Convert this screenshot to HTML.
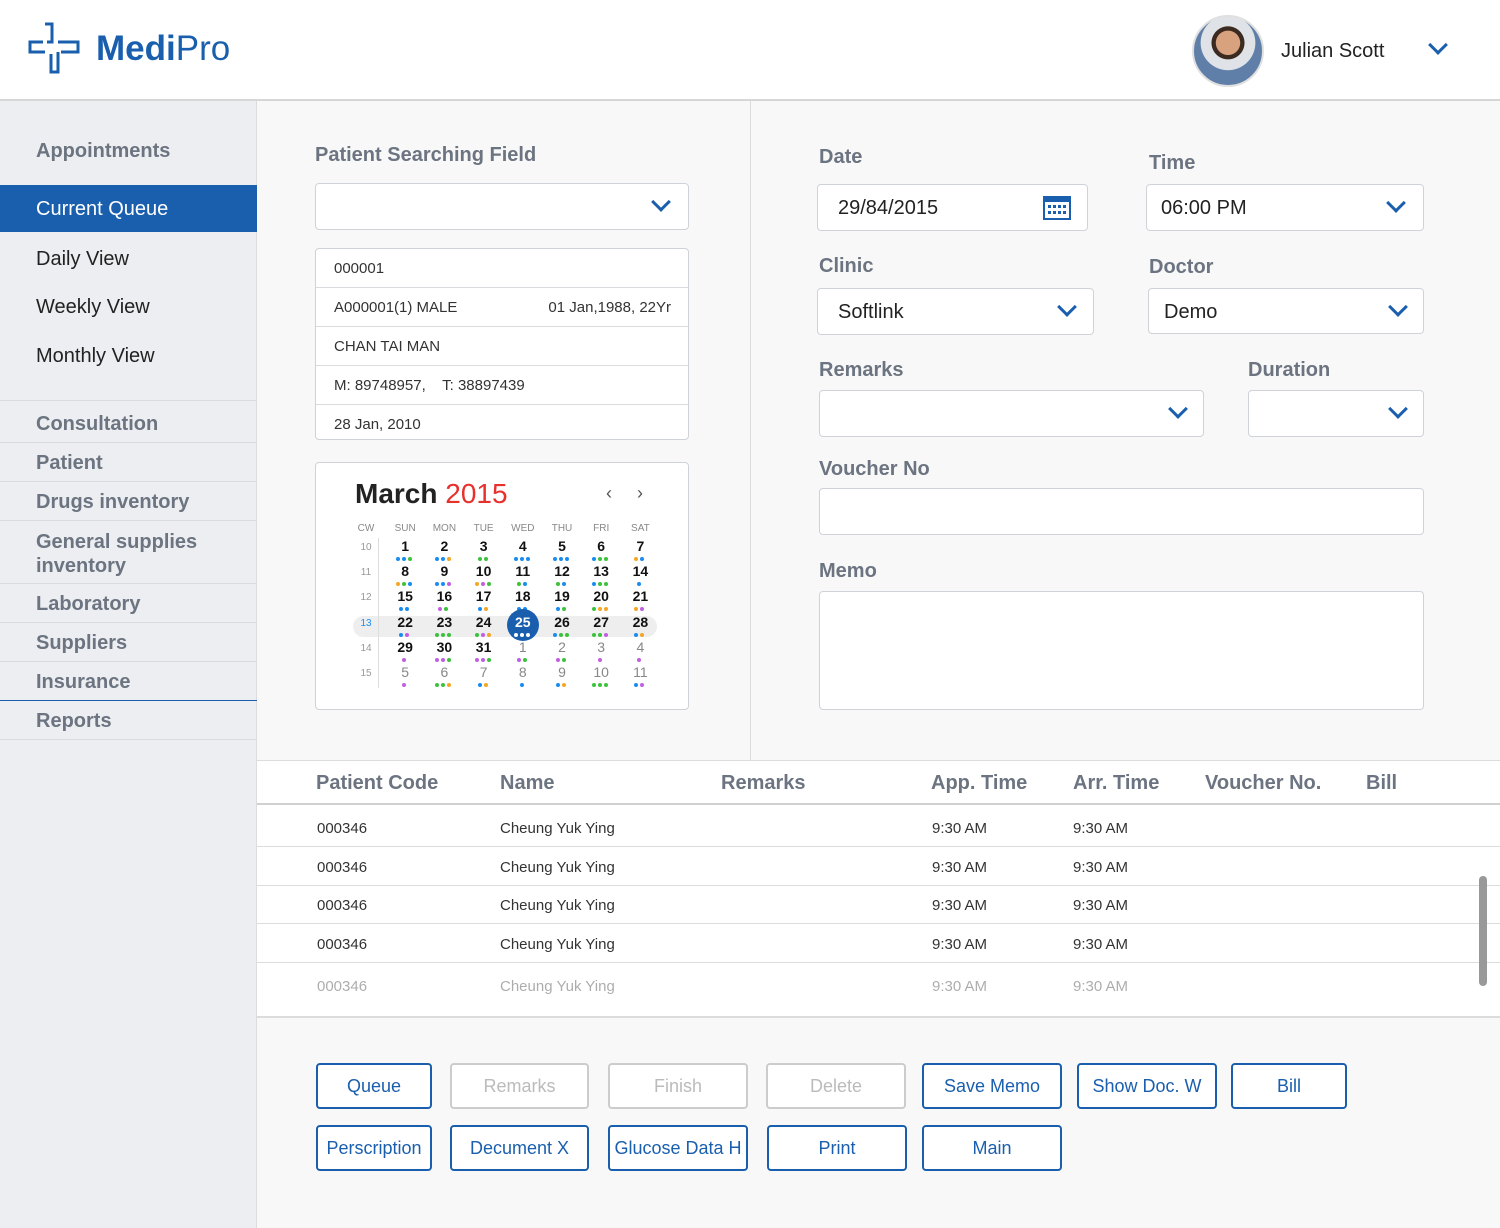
<!DOCTYPE html>
<html><head><meta charset="utf-8"><style>
*{box-sizing:border-box;margin:0;padding:0}
body{width:1500px;height:1228px;position:relative;overflow:hidden;font-family:"Liberation Sans",sans-serif;background:#f8f8f8;color:#222}
.abs{position:absolute}
#header{left:0;top:0;width:1500px;height:101px;background:#fff;border-bottom:2px solid #d6d6d6}
#side{left:0;top:101px;width:257px;height:1127px;background:#eceef1;border-right:1px solid #dcdcdc}
.sh{position:absolute;left:36px;font-size:20px;font-weight:bold;color:#6b7480}
.si{position:absolute;left:36px;font-size:20px;color:#222}
.sl{position:absolute;left:0;width:257px;height:1px;background:#d9dbde}
.lbl{position:absolute;font-size:20px;font-weight:bold;color:#6b7480}
.box{position:absolute;background:#fff;border:1px solid #cfd3d8;border-radius:4px}
.chev{position:absolute;width:14px;height:14px;border-right:3px solid #1a5fae;border-bottom:3px solid #1a5fae;transform:rotate(45deg)}
.val{position:absolute;font-size:20px;color:#222;top:12px;left:20px}
.prow{position:absolute;left:0;width:373px;height:39px;border-bottom:1px solid #d9dbde;font-size:15px;padding:11px 18px;color:#333}
.th{position:absolute;top:772px;font-size:20px;font-weight:bold;color:#6b7480}
.td{position:absolute;font-size:15px;color:#333}
.btn{position:absolute;width:116px;height:46px;border:2px solid #1a5fae;border-radius:4px;background:#fff;color:#1a5fae;font-size:18px;text-align:center;line-height:42px;white-space:nowrap;overflow:hidden}
.btn.dis{border-color:#ccc;color:#bbb}
</style></head><body>
<div id="header" class="abs">
 <svg class="abs" style="left:28px;top:22px" width="54" height="52"><path d="M17 2h7v18h-5M30 20h20v10H33M30 30v20h-7V32M17 30H2V20h13" fill="none" stroke="#1a5fae" stroke-width="3"/></svg>
 <div class="abs" style="left:96px;top:29px;font-size:35px;color:#1a5fae"><b>Medi</b>Pro</div>
 <div class="abs" style="left:1192px;top:15px;width:72px;height:72px;border-radius:50%;background:radial-gradient(circle at 50% 38%,#d9a27f 0 22%,#3b2a20 23% 30%,#dfe3e8 31% 50%,#5f7fa8 51%);border:2px solid #e0e0e0"></div>
 <div class="abs" style="left:1281px;top:40px;font-size:20px">Julian Scott</div>
 <div class="chev" style="left:1431px;top:38px"></div>
</div>
<div id="side" class="abs">
 <div class="sh" style="top:39px">Appointments</div>
 <div class="abs" style="left:0;top:84px;width:257px;height:47px;background:#1a5fae"></div>
 <div class="si" style="top:97px;color:#fff">Current Queue</div>
 <div class="si" style="top:147px">Daily View</div>
 <div class="si" style="top:195px">Weekly View</div>
 <div class="si" style="top:244px">Monthly View</div>
 <div class="sl" style="top:299px"></div>
 <div class="sh" style="top:312px">Consultation</div>
 <div class="sl" style="top:341px"></div>
 <div class="sh" style="top:351px">Patient</div>
 <div class="sl" style="top:380px"></div>
 <div class="sh" style="top:390px">Drugs inventory</div>
 <div class="sl" style="top:419px"></div>
 <div class="sh" style="top:429px;line-height:24px">General supplies<br>inventory</div>
 <div class="sl" style="top:482px"></div>
 <div class="sh" style="top:492px">Laboratory</div>
 <div class="sl" style="top:521px"></div>
 <div class="sh" style="top:531px">Suppliers</div>
 <div class="sl" style="top:560px"></div>
 <div class="sh" style="top:570px">Insurance</div>
 <div class="sl" style="top:599px;background:#1a5fae"></div>
 <div class="sh" style="top:609px">Reports</div>
 <div class="sl" style="top:638px"></div>
</div>
<div class="abs" style="left:750px;top:101px;width:1px;height:659px;background:#dcdcdc"></div>
<div class="lbl" style="left:315px;top:144px">Patient Searching Field</div>
<div class="box" style="left:315px;top:183px;width:374px;height:47px"><div class="chev" style="left:338px;top:11px"></div></div>
<div class="box" style="left:315px;top:248px;width:374px;height:192px;overflow:hidden">
 <div class="prow" style="top:0">000001</div>
 <div class="prow" style="top:39px">A000001(1) MALE<span style="float:right">01 Jan,1988, 22Yr</span></div>
 <div class="prow" style="top:78px">CHAN TAI MAN</div>
 <div class="prow" style="top:117px">M: 89748957,&nbsp;&nbsp;&nbsp; T: 38897439</div>
 <div class="prow" style="top:156px;border:0">28 Jan, 2010</div>
</div>
<div class="box" style="left:315px;top:462px;width:374px;height:248px">
 <div class="abs" style="left:39px;top:15px;font-size:28px;font-weight:600">March <span style="color:#e8302d;font-weight:normal">2015</span></div>
 <div class="abs" style="left:290px;top:20px;font-size:18px;color:#555">‹</div>
 <div class="abs" style="left:321px;top:20px;font-size:18px;color:#555">›</div>
 <div class="abs" style="left:37px;top:153px;width:304px;height:21px;border-radius:11px;background:#eeeeee"></div>
 <div class="abs" style="left:62px;top:75px;width:1px;height:150px;background:#ddd"></div>
 <div id="cal"></div>
</div>
<div class="lbl" style="left:819px;top:146px">Date</div>
<div class="box" style="left:817px;top:184px;width:271px;height:47px"><div class="val">29/84/2015</div>
 <svg class="abs" style="left:225px;top:9px" width="28" height="26"><rect x="1" y="3" width="26" height="22" fill="#fff" stroke="#1a5fae" stroke-width="2"/><rect x="1" y="3" width="26" height="5" fill="#1a5fae"/><g fill="#1a5fae"><rect x="5" y="11" width="3" height="3"/><rect x="10" y="11" width="3" height="3"/><rect x="15" y="11" width="3" height="3"/><rect x="20" y="11" width="3" height="3"/><rect x="5" y="17" width="3" height="3"/><rect x="10" y="17" width="3" height="3"/><rect x="15" y="17" width="3" height="3"/><rect x="20" y="17" width="3" height="3"/></g></svg></div>
<div class="lbl" style="left:1149px;top:152px">Time</div>
<div class="box" style="left:1146px;top:184px;width:278px;height:47px"><div class="val" style="left:14px">06:00 PM</div><div class="chev" style="left:242px;top:11px"></div></div>
<div class="lbl" style="left:819px;top:255px">Clinic</div>
<div class="box" style="left:817px;top:288px;width:277px;height:47px"><div class="val">Softlink</div><div class="chev" style="left:242px;top:11px"></div></div>
<div class="lbl" style="left:1149px;top:256px">Doctor</div>
<div class="box" style="left:1148px;top:288px;width:276px;height:46px"><div class="val" style="left:15px">Demo</div><div class="chev" style="left:242px;top:11px"></div></div>
<div class="lbl" style="left:819px;top:359px">Remarks</div>
<div class="box" style="left:819px;top:390px;width:385px;height:47px"><div class="chev" style="left:351px;top:11px"></div></div>
<div class="lbl" style="left:1248px;top:359px">Duration</div>
<div class="box" style="left:1248px;top:390px;width:176px;height:47px"><div class="chev" style="left:142px;top:11px"></div></div>
<div class="lbl" style="left:819px;top:458px">Voucher No</div>
<div class="box" style="left:819px;top:488px;width:605px;height:47px"></div>
<div class="lbl" style="left:819px;top:560px">Memo</div>
<div class="box" style="left:819px;top:591px;width:605px;height:119px"></div>
<div class="abs" style="left:257px;top:760px;width:1243px;height:258px;background:#fff;border-top:1px solid #dcdcdc;border-bottom:2px solid #dcdcdc"></div>
<div class="abs" style="left:257px;top:803px;width:1243px;height:2px;background:#d0d0d0"></div>
<div class="th" style="left:316px">Patient Code</div><div class="th" style="left:500px">Name</div><div class="th" style="left:721px">Remarks</div><div class="th" style="left:931px">App. Time</div><div class="th" style="left:1073px">Arr. Time</div><div class="th" style="left:1205px">Voucher No.</div><div class="th" style="left:1366px">Bill</div>
<div id="rows"></div>
<div class="abs" style="left:1479px;top:876px;width:8px;height:110px;border-radius:4px;background:#999"></div>
<div class="btn" style="left:316px;top:1063px">Queue</div>
<div class="btn dis" style="left:450px;top:1063px;width:139px">Remarks</div>
<div class="btn dis" style="left:608px;top:1063px;width:140px">Finish</div>
<div class="btn dis" style="left:766px;top:1063px;width:140px">Delete</div>
<div class="btn" style="left:922px;top:1063px;width:140px">Save Memo</div>
<div class="btn" style="left:1077px;top:1063px;width:140px">Show Doc. W</div>
<div class="btn" style="left:1231px;top:1063px">Bill</div>
<div class="btn" style="left:316px;top:1125px">Perscription</div>
<div class="btn" style="left:450px;top:1125px;width:139px">Decument X</div>
<div class="btn" style="left:608px;top:1125px;width:140px">Glucose Data H</div>
<div class="btn" style="left:767px;top:1125px;width:140px">Print</div>
<div class="btn" style="left:922px;top:1125px;width:140px">Main</div>
<script>
const rowTops=[0,1,2,3,4];
const rows=document.getElementById('rows');
rowTops.forEach(i=>{
  const top=820+i*38.5;
  const op=i===4?0.4:1;
  const cells=[[317,'000346'],[500,'Cheung Yuk Ying'],[932,'9:30 AM'],[1073,'9:30 AM']];
  cells.forEach(c=>{const d=document.createElement('div');d.className='td';d.style.left=c[0]+'px';d.style.top=(top+(i===4?4:0))+'px';d.style.opacity=op;d.textContent=c[1];
  
  
  rows.appendChild(d);});
  if(i<4){const l=document.createElement('div');l.className='abs';l.style.cssText='left:257px;width:1243px;height:1px;background:#dcdcdc;top:'+(top+26)+'px';
  
  
  rows.appendChild(l);}
});
const weeks=[10,11,12,13,14,15];
const days=[[1,2,3,4,5,6,7],[8,9,10,11,12,13,14],[15,16,17,18,19,20,21],[22,23,24,25,26,27,28],[29,30,31,1,2,3,4],[5,6,7,8,9,10,11]];
const dots=[["bbg","bbo","gg","bbb","bbb","bgg","ob"],["ogb","bbp","opg","gb","gb","bgg","b"],["bb","pg","bo","bb","bg","goo","op"],["bp","ggg","gpo","www","bgg","ggp","bo"],["p","ppg","ppg","pg","pg","p","p"],["p","ggo","bo","b","bo","ggg","bp"]];
const hdr=["CW","SUN","MON","TUE","WED","THU","FRI","SAT"];
const col={b:'#1a8cf0',g:'#3cc23c',o:'#f5a623',p:'#c25ee0',w:'#fff'};
const cal=document.getElementById('cal');
const cx=i=>50+i*39.2, ry=r=>79+r*25.2;
hdr.forEach((h,i)=>{const d=document.createElement('div');d.className='abs';d.style.cssText=`left:${cx(i)-15}px;width:30px;text-align:center;top:60px;font-size:10px;color:#888`;d.textContent=h;


cal.appendChild(d);});
weeks.forEach((w,r)=>{
  const d=document.createElement('div');d.className='abs';d.style.cssText=`left:${cx(0)-15}px;width:30px;text-align:center;top:${ry(r)}px;font-size:10px;color:${w===13?'#1a8cf0':'#999'}`;d.textContent=w;
  
  
  cal.appendChild(d);
  days[r].forEach((n,c)=>{
    const x=cx(c+1),y=ry(r);
    const other=(r===4&&c>2)||r===5;
    if(r===3&&c===3){const s=document.createElement('div');s.className='abs';s.style.cssText=`left:${x-16}px;top:${y-9}px;width:32px;height:32px;border-radius:50%;background:#1a5fae`;
    
    
    cal.appendChild(s);}
    const t=document.createElement('div');t.className='abs';t.style.cssText=`left:${x-15}px;width:30px;text-align:center;top:${y-4}px;font-size:14px;font-weight:${other?'normal':'600'};color:${r===3&&c===3?'#fff':other?'#888':'#111'}`;t.textContent=n;
    
    
    cal.appendChild(t);
    const ds=dots[r][c];
    [...ds].forEach((k,j)=>{const p=document.createElement('div');p.className='abs';p.style.cssText=`left:${x-ds.length*3+j*6}px;top:${y+15}px;width:4px;height:4px;border-radius:50%;background:${col[k]}`;
    
    
    cal.appendChild(p);});
  });
});
</script>
</body></html>
